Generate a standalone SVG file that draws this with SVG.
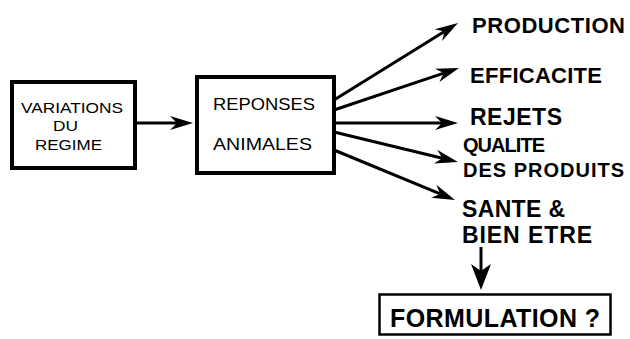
<svg xmlns="http://www.w3.org/2000/svg" width="630" height="339" viewBox="0 0 630 339">
<style>
.box{fill:#fff;stroke:#000;stroke-width:4}
.fbox{fill:#fff;stroke:#000;stroke-width:2.5}
.ln{stroke:#000;stroke-width:3;fill:none}
.t{font-family:"Liberation Sans",Arial,sans-serif;fill:#000}
.b{font-weight:bold}
</style>
<defs>
<marker id="ah" markerUnits="userSpaceOnUse" markerWidth="23" markerHeight="14" viewBox="0 -7 23 14" refX="7" refY="0" orient="auto" overflow="visible">
<path d="M0,-7 L23,0 L0,7 L7,0 Z" fill="#000"/>
</marker>
<marker id="ahd" markerUnits="userSpaceOnUse" markerWidth="26" markerHeight="20" viewBox="0 -10 26 20" refX="7" refY="0" orient="auto" overflow="visible">
<path d="M0,-10 L26,0 L0,10 L7,0 Z" fill="#000"/>
</marker>
</defs>
<rect width="630" height="339" fill="#fff"/>
<g id="connectors">
<line class="ln" x1="137" y1="123" x2="177" y2="123" marker-end="url(#ah)"/>
<line class="ln" x1="334" y1="100" x2="444.4" y2="31.4" marker-end="url(#ah)"/>
<line class="ln" x1="334" y1="110" x2="443.8" y2="73.1" marker-end="url(#ah)"/>
<line class="ln" x1="334" y1="123" x2="442" y2="123" marker-end="url(#ah)"/>
<line class="ln" x1="334" y1="132" x2="442.4" y2="158.3" marker-end="url(#ah)"/>
<line class="ln" x1="334" y1="150" x2="440.2" y2="193.9" marker-end="url(#ah)"/>
<line class="ln" x1="481" y1="247" x2="481" y2="271" marker-end="url(#ahd)"/>
</g>
<g id="variations">
<rect class="box" x="12" y="82" width="123" height="86"/>
<text class="t" font-size="15.5" x="21" y="113" textLength="102" lengthAdjust="spacingAndGlyphs">VARIATIONS</text>
<text class="t" font-size="15.5" x="53" y="131" textLength="25" lengthAdjust="spacingAndGlyphs">DU</text>
<text class="t" font-size="15.5" x="35" y="150" textLength="67" lengthAdjust="spacingAndGlyphs">REGIME</text>
</g>
<g id="reponses">
<rect class="box" x="197" y="77" width="137" height="96"/>
<text class="t" font-size="17" x="213" y="110" textLength="102" lengthAdjust="spacingAndGlyphs">REPONSES</text>
<text class="t" font-size="17" x="213" y="150" textLength="99" lengthAdjust="spacingAndGlyphs">ANIMALES</text>
</g>
<g id="production">
<text class="t b" font-size="22" x="472" y="33" textLength="153" lengthAdjust="spacing">PRODUCTION</text>
</g>
<g id="efficacite">
<text class="t b" font-size="22" x="470" y="83" textLength="132" lengthAdjust="spacing">EFFICACITE</text>
</g>
<g id="rejets">
<text class="t b" font-size="23" x="470" y="125" textLength="92" lengthAdjust="spacing">REJETS</text>
</g>
<g id="qualite">
<text class="t b" font-size="20" x="463" y="152" textLength="82" lengthAdjust="spacing">QUALITE</text>
<text class="t b" font-size="20" x="463" y="177" textLength="161" lengthAdjust="spacing">DES PRODUITS</text>
</g>
<g id="sante">
<text class="t b" font-size="23" x="462" y="217" textLength="103" lengthAdjust="spacing">SANTE &amp;</text>
<text class="t b" font-size="23" x="462" y="243" textLength="130" lengthAdjust="spacing">BIEN ETRE</text>
</g>
<g id="formulation">
<rect class="fbox" x="379.5" y="294.5" width="231" height="40"/>
<text class="t b" font-size="25" x="390" y="327" textLength="210" lengthAdjust="spacing">FORMULATION ?</text>
</g>
</svg>
